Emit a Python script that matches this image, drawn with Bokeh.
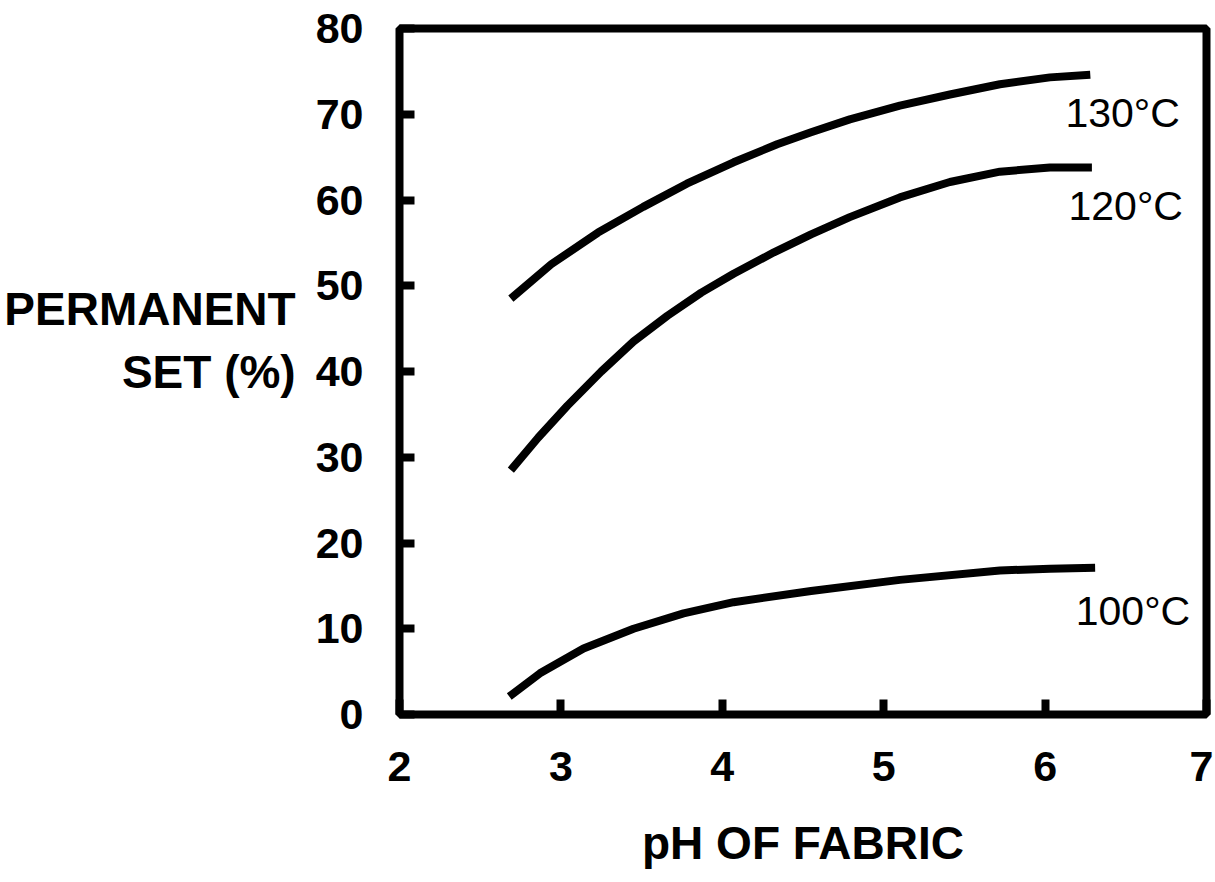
from bokeh.plotting import figure
from bokeh.models import Range1d, Label, FixedTicker
from bokeh.embed import file_html
from bokeh.resources import INLINE

# pH of fabric (x) and permanent set (%) for each temperature
ph_130 = [2.69, 2.94, 3.23, 3.51, 3.78, 4.07, 4.34, 4.55, 4.79, 5.10, 5.41, 5.72, 6.03, 6.28]
set_130 = [48.5, 52.5, 56.2, 59.2, 61.9, 64.4, 66.5, 67.9, 69.4, 71.0, 72.3, 73.5, 74.3, 74.6]

ph_120 = [2.69, 2.86, 3.04, 3.25, 3.45, 3.66, 3.87, 4.07, 4.32, 4.55, 4.79, 5.10, 5.41, 5.72, 6.03, 6.29]
set_120 = [28.5, 32.3, 36.0, 40.0, 43.5, 46.5, 49.2, 51.4, 53.9, 56.0, 58.0, 60.3, 62.1, 63.3, 63.8, 63.8]

ph_100 = [2.68, 2.87, 3.14, 3.45, 3.76, 4.07, 4.55, 5.10, 5.72, 6.03, 6.31]
set_100 = [2.1, 4.8, 7.7, 10.0, 11.8, 13.1, 14.4, 15.7, 16.8, 17.0, 17.1]

series_labels = ["130°C", "120°C", "100°C"]
x_ticks = [2, 3, 4, 5, 6, 7]
y_ticks = [0, 10, 20, 30, 40, 50, 60, 70, 80]

FONT = "Liberation Sans"

p = figure(width=1213, height=880, output_backend="svg", toolbar_location=None,
           x_range=Range1d(2, 7), y_range=Range1d(0, 80),
           min_border_left=399, min_border_right=7, min_border_top=28, min_border_bottom=166)

p.xgrid.visible = False
p.ygrid.visible = False
p.outline_line_color = "black"
p.outline_line_width = 8
p.background_fill_color = "white"
p.border_fill_color = "white"

for ax in (p.xaxis[0], p.yaxis[0]):
    ax.axis_line_color = None
    ax.major_tick_line_color = "black"
    ax.major_tick_line_width = 8
    ax.major_tick_in = 15
    ax.major_tick_out = 0
    ax.minor_tick_line_color = None
    ax.major_label_text_font = FONT
    ax.major_label_text_font_style = "bold"
    ax.major_label_text_font_size = "43px"
    ax.major_label_text_color = "black"
    ax.axis_label_text_font = FONT
    ax.axis_label_text_font_style = "bold"
    ax.axis_label_text_font_size = "46px"
    ax.axis_label_text_color = "black"

p.xaxis[0].ticker = FixedTicker(ticks=x_ticks)
p.yaxis[0].ticker = FixedTicker(ticks=y_ticks)
p.xaxis[0].major_label_standoff = 37
p.yaxis[0].major_label_standoff = 36

p.xaxis[0].axis_label = "pH OF FABRIC"
p.xaxis[0].axis_label_standoff = 33

p.yaxis[0].axis_label = "PERMANENT\nSET (%)\n"
p.yaxis[0].axis_label_orientation = "horizontal"
p.yaxis[0].axis_label_text_align = "center"
p.yaxis[0].axis_label_standoff = 17

for xs, ys in ((ph_130, set_130), (ph_120, set_120), (ph_100, set_100)):
    p.line(xs, ys, line_color="black", line_width=8, line_cap="butt", line_join="round")

# curve labels
label_pos = [(6.126, 70.1), (6.145, 59.3), (6.19, 12.1)]
for txt, (lx, ly) in zip(series_labels, label_pos):
    p.add_layout(Label(x=lx, y=ly, text=txt, text_font=FONT, text_font_size="41px",
                       text_color="black", text_align="left", text_baseline="alphabetic"))

open("out.html", "w").write(file_html(p, INLINE))
